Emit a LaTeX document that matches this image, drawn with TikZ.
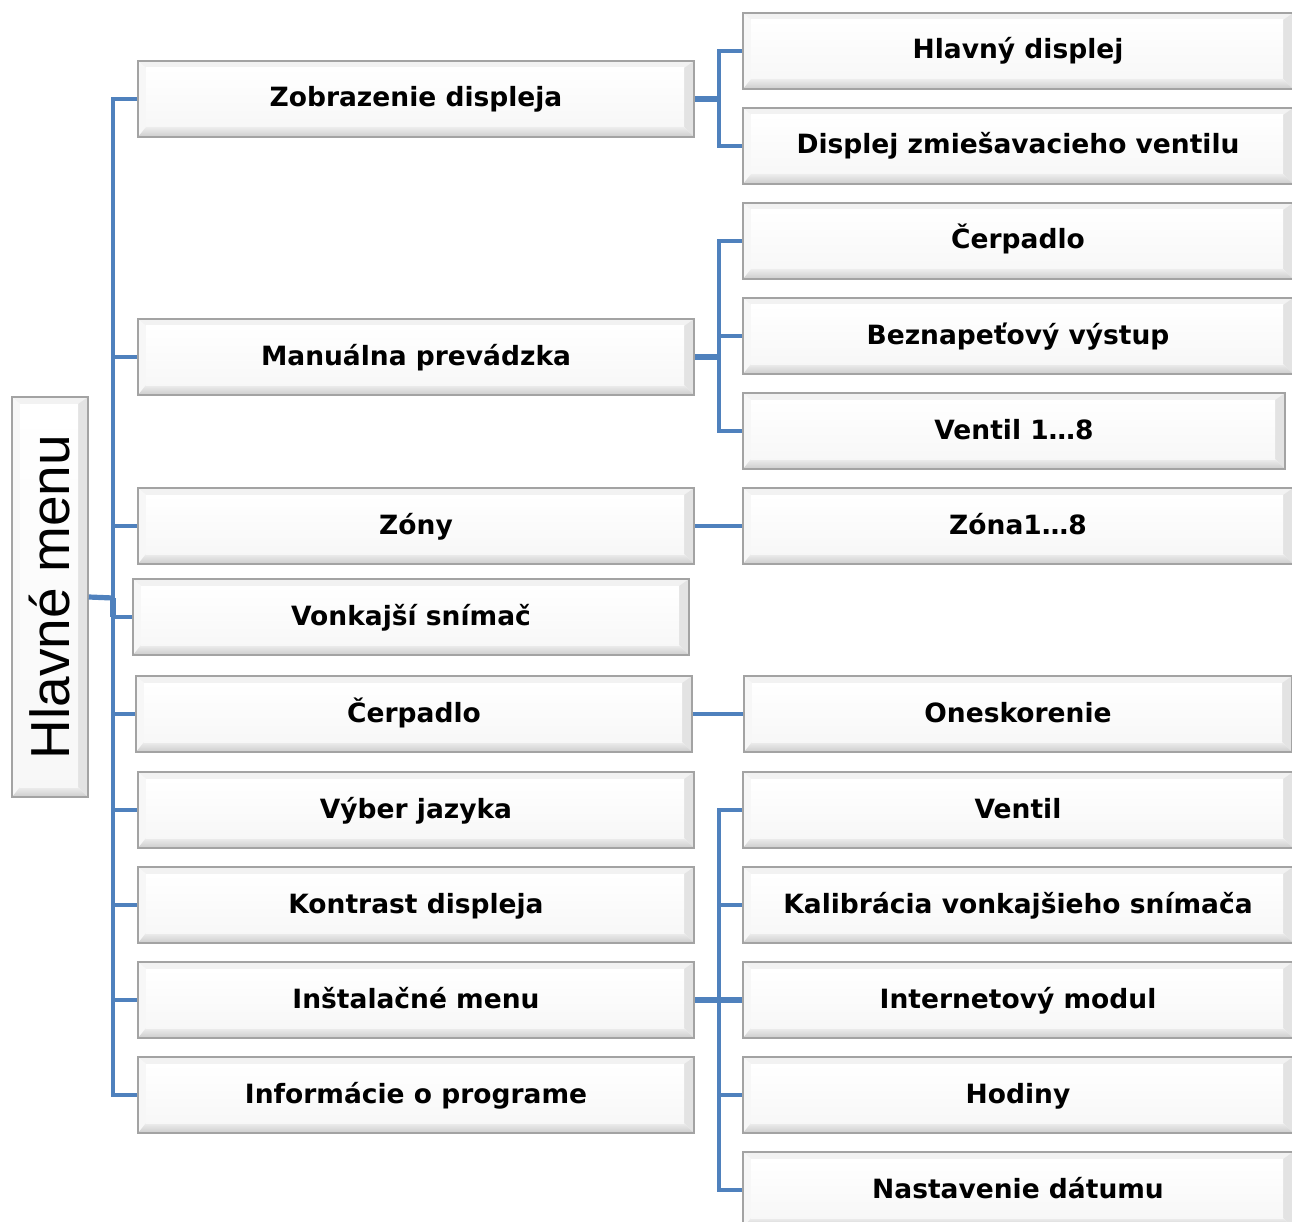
\documentclass[tikz,border=0pt]{standalone}
\usepackage{fontspec}
\setmainfont{DejaVu Sans}
\newfontfamily\rootfont{Liberation Sans}
\definecolor{cblue}{RGB}{79,129,189}
\tikzset{
  box/.style={draw=black!36, line width=1.6pt, fill=white, minimum width=556pt, minimum height=76pt,
    inner sep=0pt, text height=21pt, text depth=5pt, font=\fontsize{26.5}{30}\selectfont\bfseries,
    path picture={
      \path (path picture bounding box.south west) coordinate (pSW)
            (path picture bounding box.north east) coordinate (pNE)
            (path picture bounding box.south east) coordinate (pSE)
            (path picture bounding box.north west) coordinate (pNW);
      \fill[black!5] (pNW) -- (pNE) -- ([xshift=-10pt,yshift=-7pt]pNE) -- ([xshift=8pt,yshift=-7pt]pNW) -- cycle;
      \fill[black!3] (pNW) -- ([xshift=8pt,yshift=-7pt]pNW) -- ([xshift=8pt,yshift=10pt]pSW) -- (pSW) -- cycle;
      \fill[black!11] (pNE) -- (pSE) -- ([xshift=-10pt,yshift=10pt]pSE) -- ([xshift=-10pt,yshift=-7pt]pNE) -- cycle;
      \shade[top color=black!7, bottom color=black!20] (pSW) -- (pSE) -- ([xshift=-10pt,yshift=10pt]pSE) -- ([xshift=8pt,yshift=10pt]pSW) -- cycle;
      \shade[top color=white, bottom color=black!3] ([xshift=8pt,yshift=-7pt]pNW) rectangle ([xshift=-10pt,yshift=10pt]pSE);
    }},
  wbox/.style={box, minimum width=550pt},
  conn/.style={draw=cblue, line width=3.4pt},
  tconn/.style={draw=cblue, line width=5.2pt},
}
\begin{document}
\begin{tikzpicture}[x=1pt,y=-1pt]
\useasboundingbox (0,0) rectangle (1292,1222);
% root
\node[box, minimum width=76pt, minimum height=400pt, text height=, text depth=] (root) at (50,597)
  {\rotatebox{90}{\rootfont\mdseries\fontsize{55}{60}\selectfont Hlavné menu}};
% level 1
\node[box] (a1) at (416,99)  {Zobrazenie displeja};
\node[box] (a2) at (416,357) {Manuálna prevádzka};
\node[box] (a3) at (416,526) {Zóny};
\node[box] (a4) at (411,617) {Vonkajší snímač};
\node[box] (a5) at (414,714) {Čerpadlo};
\node[box] (a6) at (416,810) {Výber jazyka};
\node[box] (a7) at (416,905) {Kontrast displeja};
\node[box] (a8) at (416,1000) {Inštalačné menu};
\node[box] (a9) at (416,1095) {Informácie o programe};
% level 2
\node[wbox] (b1)  at (1018,51)  {Hlavný displej};
\node[wbox] (b2)  at (1018,146) {Displej zmiešavacieho ventilu};
\node[wbox] (b3)  at (1018,241) {Čerpadlo};
\node[wbox] (b4)  at (1018,336) {Beznapeťový výstup};
\node[wbox, minimum width=542pt] (b5) at (1014,431) {Ventil 1…8};
\node[wbox] (b6)  at (1018,526) {Zóna1…8};
\node[wbox, minimum width=548pt] (b7) at (1018,714) {Oneskorenie};
\node[wbox] (b8)  at (1018,810) {Ventil};
\node[wbox] (b9)  at (1018,905) {Kalibrácia vonkajšieho snímača};
\node[wbox] (b10) at (1018,1000) {Internetový modul};
\node[wbox] (b11) at (1018,1095) {Hodiny};
\node[wbox] (b12) at (1018,1190) {Nastavenie dátumu};
% connectors root
\coordinate (sp) at (113,598);
\draw[tconn] (root.east) -- (sp);
\draw[tconn] (sp) -- (113,617);
\foreach \n in {a1,a2,a3,a4,a5,a6,a7,a8,a9}{\draw[conn] (sp) |- (\n.west);}
% connectors level 2
\coordinate (s1) at (719,99);
\draw[tconn] (a1.east) -- (s1);
\draw[conn] (s1) |- (b1.west);
\draw[conn] (s1) |- (b2.west);
\coordinate (s2) at (719,357);
\draw[tconn] (a2.east) -- (s2);
\draw[conn] (s2) |- (b3.west);
\draw[conn] (s2) |- (b4.west);
\draw[conn] (s2) |- (b5.west);
\draw[conn] (a3.east) -- (b6.west);
\draw[conn] (a5.east) -- (b7.west);
\coordinate (s3) at (719,1000);
\draw[tconn] (a8.east) -- (s3);
\foreach \n in {b8,b9,b10,b11,b12}{\draw[conn] (s3) |- (\n.west);}
\draw[tconn] (s3) -- (b10.west);
\end{tikzpicture}
\end{document}
